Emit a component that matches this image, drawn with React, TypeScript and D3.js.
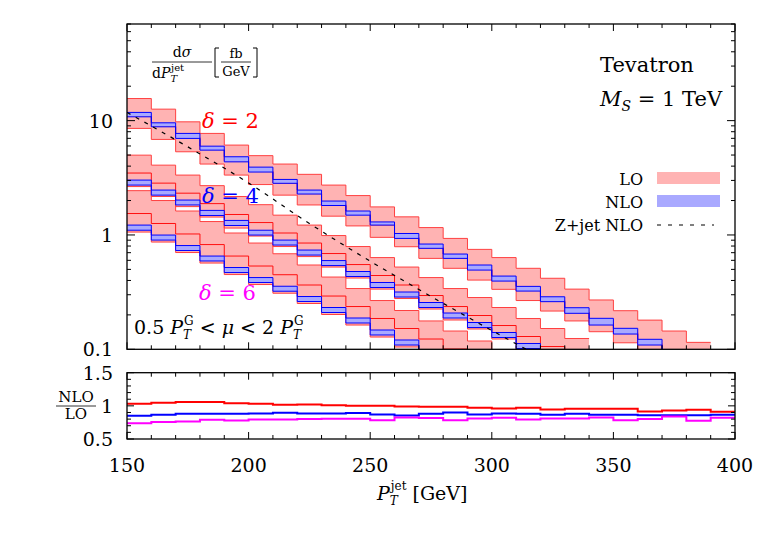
import React from 'react';
import * as d3 from 'd3';

// bin left edges, GeV (10 GeV wide bins)
const binLeft = [150, 160, 170, 180, 190, 200, 210, 220, 230, 240, 250, 260, 270, 280, 290,
  300, 310, 320, 330, 340, 350, 360, 370, 380, 390];

// delta = 2
const lo2Up = [15.6, 12.6, 9.76, 7.73, 6.11, 4.94, 4.17, 3.39, 2.73, 2.21, 1.76, 1.44, 1.16, 0.933, 0.748, 0.634, 0.511, 0.418, 0.336, 0.27, 0.2175, 0.18, 0.1445, 0.115];
const lo2Mid = [10.95, 8.92, 7.13, 5.58, 4.45, 3.62, 2.85, 2.3, 1.84, 1.51, 1.226, 0.953, 0.773, 0.632, 0.503, 0.403, 0.3286, 0.266, 0.212, 0.169, 0.1397, 0.112, 0.09, 0.0722];
const lo2Dn = [8.55, 6.85, 5.34, 4.17, 3.34, 2.76, 2.23, 1.83, 1.46, 1.2, 0.953, 0.789, 0.624, 0.511, 0.403, 0.3345, 0.267, 0.216, 0.177, 0.1425, 0.114, 0.0929, 0.0774, 0.062];
const nlo2Up = [11.8, 9.57, 7.73, 5.98, 4.83, 3.92, 3.06, 2.47, 1.98, 1.62, 1.3, 1.03, 0.833, 0.681, 0.546, 0.437, 0.355, 0.288, 0.231, 0.1866, 0.1526, 0.1223, 0.0986, 0.079];
const nlo2Dn = [10.8, 8.83, 6.99, 5.52, 4.36, 3.55, 2.83, 2.28, 1.81, 1.49, 1.22, 0.933, 0.764, 0.624, 0.493, 0.395, 0.323, 0.261, 0.2064, 0.163, 0.136, 0.109, 0.0874, 0.07];

// delta = 4
const lo4Up = [4.99, 4.08, 3.34, 2.7, 2.17, 1.84, 1.49, 1.22, 0.988, 0.792, 0.634, 0.524, 0.424, 0.34, 0.2837, 0.232, 0.186, 0.152, 0.1243];
const lo4Mid = [3.48, 2.84, 2.32, 1.88, 1.51, 1.284, 1.04, 0.85, 0.688, 0.551, 0.442, 0.365, 0.2953, 0.2366, 0.1975, 0.1614, 0.1294, 0.1058, 0.0865];
const lo4Dn = [2.65, 2.17, 1.77, 1.434, 1.149, 0.978, 0.792, 0.647, 0.524, 0.42, 0.336, 0.278, 0.225, 0.1804, 0.1505, 0.123, 0.0986, 0.0806, 0.066];
const nlo4Up = [3.02, 2.47, 2.02, 1.64, 1.34, 1.1, 0.902, 0.738, 0.597, 0.479, 0.384, 0.317, 0.2566, 0.2077, 0.1715, 0.1403, 0.1124, 0.0919, 0.0751];
const nlo4Dn = [2.73, 2.23, 1.83, 1.48, 1.21, 0.998, 0.816, 0.667, 0.54, 0.433, 0.347, 0.2866, 0.232, 0.1878, 0.155, 0.1268, 0.1016, 0.0831, 0.068];

// delta = 6
const lo6Up = [2.44, 2.0, 1.62, 1.31, 1.04, 0.85, 0.685, 0.546, 0.4285, 0.34, 0.267, 0.2184, 0.177, 0.1445, 0.1182, 0.0966];
const lo6Mid = [1.54, 1.26, 1.02, 0.824, 0.654, 0.535, 0.449, 0.365, 0.2923, 0.2366, 0.186, 0.152, 0.123, 0.1006, 0.0823, 0.0673];
const lo6Dn = [1.06, 0.867, 0.702, 0.568, 0.4505, 0.3685, 0.3093, 0.2515, 0.2015, 0.163, 0.128, 0.1047, 0.0848, 0.0693, 0.0567, 0.0463];
const nlo6Up = [1.22, 0.998, 0.808, 0.654, 0.519, 0.424, 0.356, 0.2895, 0.232, 0.1878, 0.1475, 0.1206, 0.0976, 0.077, 0.0634, 0.0521];
const nlo6Dn = [1.1, 0.902, 0.731, 0.592, 0.469, 0.384, 0.322, 0.2617, 0.2098, 0.1698, 0.1334, 0.109, 0.0883, 0.0697, 0.0573, 0.0471];

// Z+jet NLO background
const zjetPt = [150, 175, 200, 225, 250, 275, 300, 325];
const zjetNlo = [11.8, 5.9, 2.85, 1.26, 0.59, 0.29, 0.146, 0.075];

// NLO / LO ratios
const ratio2 = [1.03, 1.048, 1.058, 1.058, 1.04, 1.033, 1.015, 1.02, 1.01, 1.0, 1.0, 0.99, 0.985, 0.985, 0.97, 0.96, 0.97, 0.945, 0.955, 0.955, 0.955, 0.915, 0.93, 0.94, 0.91];
const ratio4 = [0.852, 0.867, 0.88, 0.88, 0.88, 0.886, 0.896, 0.886, 0.886, 0.891, 0.871, 0.855, 0.881, 0.901, 0.871, 0.886, 0.881, 0.865, 0.881, 0.865, 0.865, 0.86, 0.86, 0.86, 0.865];
const ratio6 = [0.736, 0.756, 0.765, 0.789, 0.779, 0.794, 0.794, 0.8, 0.805, 0.805, 0.784, 0.825, 0.815, 0.784, 0.81, 0.82, 0.794, 0.81, 0.81, 0.825, 0.784, 0.8, 0.84, 0.774, 0.82];

const xTickLabels = [150, 200, 250, 300, 350, 400];
const yTickLabels = [0.1, 1, 10];
const ratioTickLabels = [0.5, 1, 1.5];

const LO_FILL = '#ffb3b3';
const LO_EDGE = '#ff4040';
const NLO_FILL = '#a9a9ff';
const NLO_EDGE = '#0000ff';

export default function App() {
  const left = 127, right = 735, top = 24, bottom = 349.3;
  const rTop = 372.7, rBottom = 439;

  const x = d3.scaleLinear().domain([150, 400]).range([left, right]);
  const y = d3.scaleLog().domain([0.1, 70]).range([bottom, top]);
  const yr = d3.scaleLinear().domain([0.5, 1.5]).range([rBottom, rTop]);

  const stepPts = (vals: number[], sy: (v: number) => number) => {
    const pts: [number, number][] = [];
    vals.forEach((v, i) => {
      pts.push([x(binLeft[i]), sy(v)], [x(binLeft[i] + 10), sy(v)]);
    });
    return pts;
  };
  const line = d3.line();
  const stepLine = (vals: number[], sy: (v: number) => number = y) => line(stepPts(vals, sy)) || '';
  const stepArea = (lo: number[], hi: number[]) => {
    const pts: { x: number; y0: number; y1: number }[] = [];
    lo.forEach((v, i) => {
      pts.push({ x: x(binLeft[i]), y0: y(v), y1: y(hi[i]) });
      pts.push({ x: x(binLeft[i] + 10), y0: y(v), y1: y(hi[i]) });
    });
    return d3.area<{ x: number; y0: number; y1: number }>()
      .x(d => d.x).y0(d => d.y0).y1(d => d.y1)(pts) || '';
  };

  const groups = [
    { loUp: lo2Up, loMid: lo2Mid, loDn: lo2Dn, nloUp: nlo2Up, nloDn: nlo2Dn },
    { loUp: lo4Up, loMid: lo4Mid, loDn: lo4Dn, nloUp: nlo4Up, nloDn: nlo4Dn },
    { loUp: lo6Up, loMid: lo6Mid, loDn: lo6Dn, nloUp: nlo6Up, nloDn: nlo6Dn },
  ];

  const zLine = d3.line<number>()
    .x((_, i) => x(zjetPt[i]))
    .y(d => y(d))
    .curve(d3.curveMonotoneX)(zjetNlo) || '';

  // ticks
  const xMinor = d3.range(150, 401, 10);
  const logTicks: { v: number; major: boolean }[] = [];
  [0.1, 1, 10].forEach(dec => {
    for (let m = 1; m <= 9; m++) {
      const v = m * dec;
      if (v <= 70) logTicks.push({ v, major: m === 1 });
    }
  });
  const rTicks = d3.range(5, 16).map(d => d / 10);

  const ratioSeries = [
    { vals: ratio2, color: '#ff0000' },
    { vals: ratio4, color: '#0000ff' },
    { vals: ratio6, color: '#ff00ff' },
  ];

  const bracket = (xb: number, y0: number, y1: number, dir: number) =>
    `M${xb + 4 * dir},${y0} H${xb} V${y1} H${xb + 4 * dir}`;

  return (
    <svg width={763} height={535} style={{ position: 'absolute', left: 0, top: 0, background: '#fff' }}
      fontFamily="'DejaVu Serif', serif">
      <defs>
        <clipPath id="mainClip"><rect x={left} y={top} width={right - left} height={bottom - top} /></clipPath>
        <clipPath id="ratioClip"><rect x={left} y={rTop} width={right - left} height={rBottom - rTop} /></clipPath>
      </defs>

      <g clipPath="url(#mainClip)">
        {groups.map((g, i) => (
          <path key={'lof' + i} d={stepArea(g.loDn, g.loUp)} fill={LO_FILL} />
        ))}
        {groups.map((g, i) => (
          <g key={'lol' + i} fill="none" stroke={LO_EDGE} strokeWidth={1}>
            <path d={stepLine(g.loUp)} />
            <path d={stepLine(g.loDn)} />
            <path d={stepLine(g.loMid)} stroke="#ff1010" />
          </g>
        ))}
        {groups.map((g, i) => (
          <g key={'nlo' + i}>
            <path d={stepArea(g.nloDn, g.nloUp)} fill={NLO_FILL} />
            <path d={stepLine(g.nloUp)} fill="none" stroke={NLO_EDGE} strokeWidth={1} />
            <path d={stepLine(g.nloDn)} fill="none" stroke={NLO_EDGE} strokeWidth={1} />
          </g>
        ))}
        <path d={zLine} fill="none" stroke="#000" strokeWidth={1.2} strokeDasharray="4 6" />
      </g>

      <g clipPath="url(#ratioClip)">
        {ratioSeries.map((s, i) => (
          <path key={i} d={stepLine(s.vals, yr)} fill="none" stroke={s.color} strokeWidth={2} />
        ))}
      </g>

      {/* frames */}
      <rect x={left} y={top} width={right - left} height={bottom - top} fill="none" stroke="#000" strokeWidth={1.3} />
      <rect x={left} y={rTop} width={right - left} height={rBottom - rTop} fill="none" stroke="#000" strokeWidth={1.3} />

      {/* ticks */}
      <g stroke="#000" strokeWidth={1}>
        {xMinor.map(t => {
          const len = t % 50 === 0 ? 7 : 4;
          const xp = x(t);
          return (
            <g key={t}>
              <line x1={xp} x2={xp} y1={bottom} y2={bottom - len} />
              <line x1={xp} x2={xp} y1={top} y2={top + len} />
              <line x1={xp} x2={xp} y1={rBottom} y2={rBottom - len} />
              <line x1={xp} x2={xp} y1={rTop} y2={rTop + len} />
            </g>
          );
        })}
        {logTicks.map(t => {
          const len = t.major ? 8 : 4;
          const yp = y(t.v);
          return (
            <g key={t.v}>
              <line x1={left} x2={left + len} y1={yp} y2={yp} />
              <line x1={right} x2={right - len} y1={yp} y2={yp} />
            </g>
          );
        })}
        {rTicks.map(t => {
          const len = Math.abs(t * 2 - Math.round(t * 2)) < 1e-6 ? 7 : 4;
          const yp = yr(t);
          return (
            <g key={t}>
              <line x1={left} x2={left + len} y1={yp} y2={yp} />
              <line x1={right} x2={right - len} y1={yp} y2={yp} />
            </g>
          );
        })}
      </g>

      {/* tick labels */}
      <g fontSize={19} fill="#000">
        {xTickLabels.map(t => (
          <text key={t} x={x(t)} y={472} textAnchor="middle">{t}</text>
        ))}
        {yTickLabels.map(t => (
          <text key={t} x={113} y={y(t) + 7} textAnchor="end">{t}</text>
        ))}
        {ratioTickLabels.map(t => (
          <text key={t} x={113} y={yr(t) + 7} textAnchor="end">{t}</text>
        ))}
      </g>

      {/* axis titles */}
      <text x={377} y={500} fontSize={19}>
        <tspan fontStyle="italic">P</tspan>
        <tspan fontSize={12} fontStyle="italic" dy={5}>T</tspan>
        <tspan fontSize={12} dx={-7} dy={-15}>jet</tspan>
        <tspan dy={10} dx={6}>[GeV]</tspan>
      </text>

      <text x={182} y={57} fontSize={14} textAnchor="middle">d<tspan fontStyle="italic">σ</tspan></text>
      <line x1={152} x2={212} y1={62} y2={62} stroke="#000" strokeWidth={0.8} />
      <text x={152} y={78} fontSize={14}>
        d<tspan fontStyle="italic">P</tspan>
        <tspan fontSize={10} fontStyle="italic" dy={4}>T</tspan>
        <tspan fontSize={10} dx={-6} dy={-11}>jet</tspan>
      </text>
      <path d={bracket(215, 48, 77, 1)} fill="none" stroke="#000" strokeWidth={1} />
      <text x={236} y={58} fontSize={13} textAnchor="middle">fb</text>
      <line x1={221} x2={251} y1={62} y2={62} stroke="#000" strokeWidth={0.8} />
      <text x={236} y={76} fontSize={13} textAnchor="middle">GeV</text>
      <path d={bracket(257, 48, 77, -1)} fill="none" stroke="#000" strokeWidth={1} />

      <text x={76} y={402} fontSize={15} textAnchor="middle">NLO</text>
      <line x1={56} x2={96} y1={406} y2={406} stroke="#000" strokeWidth={0.8} />
      <text x={76} y={419} fontSize={15} textAnchor="middle">LO</text>

      {/* annotations */}
      <text x={600} y={72} fontSize={21}>Tevatron</text>
      <text x={600} y={106} fontSize={21}>
        <tspan fontStyle="italic">M</tspan>
        <tspan fontSize={14} fontStyle="italic" dy={5}>S</tspan>
        <tspan dy={-5}> = 1 TeV</tspan>
      </text>

      <text x={202} y={128} fontSize={21} fill="#ff0000"><tspan fontStyle="italic">δ</tspan> = 2</text>
      <text x={202} y={203} fontSize={21} fill="#0000ff"><tspan fontStyle="italic">δ</tspan> = 4</text>
      <text x={199} y={300} fontSize={21} fill="#ff00ff"><tspan fontStyle="italic">δ</tspan> = 6</text>

      <text x={134} y={334} fontSize={19}>
        0.5 <tspan fontStyle="italic">P</tspan>
        <tspan fontSize={12} fontStyle="italic" dy={5}>T</tspan>
        <tspan fontSize={12} dx={-7} dy={-14}>G</tspan>
        <tspan dy={9}> &lt; </tspan>
        <tspan fontStyle="italic">μ</tspan>
        <tspan> &lt; 2 </tspan>
        <tspan fontStyle="italic">P</tspan>
        <tspan fontSize={12} fontStyle="italic" dy={5}>T</tspan>
        <tspan fontSize={12} dx={-7} dy={-14}>G</tspan>
      </text>

      {/* legend */}
      <g fontSize={16}>
        <text x={643} y={185} textAnchor="end">LO</text>
        <rect x={657} y={172} width={63} height={12} fill={LO_FILL} />
        <text x={643} y={208} textAnchor="end">NLO</text>
        <rect x={657} y={195} width={63} height={12} fill={NLO_FILL} />
        <text x={643} y={231} textAnchor="end">Z+jet NLO</text>
        <line x1={657} x2={714} y1={225} y2={225} stroke="#000" strokeWidth={1} strokeDasharray="4 7" />
      </g>
    </svg>
  );
}
